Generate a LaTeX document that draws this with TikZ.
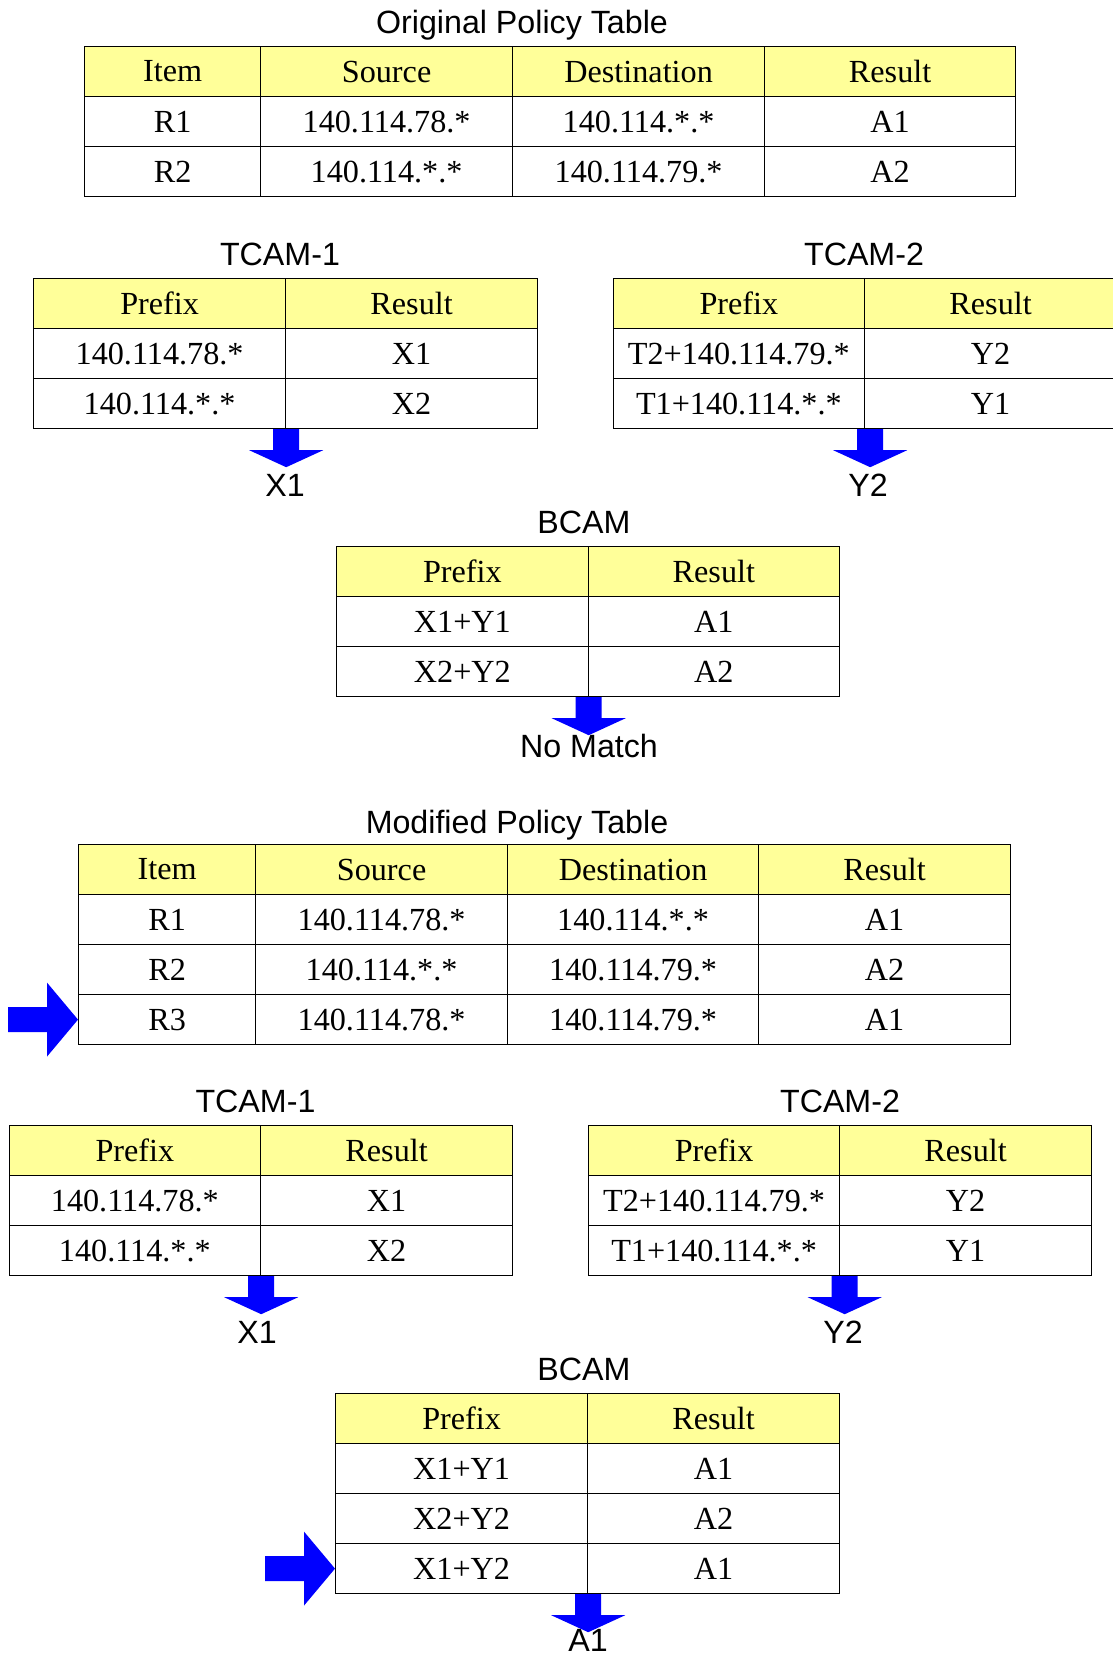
\documentclass[tikz,border=0pt]{standalone}
\usepackage{fontspec}
\setmainfont{Liberation Serif}
\newfontfamily\labelfont{Liberation Sans}
\usetikzlibrary{calc}

\definecolor{headyellow}{RGB}{255,255,153}
\definecolor{arrowblue}{RGB}{0,0,255}

\tikzset{
  cell/.style={draw=black, line width=1.2pt, fill=white, minimum height=50pt,
               inner sep=0pt, anchor=north west, font=\fontsize{32.2}{37}\selectfont},
  headcell/.style={cell, fill=headyellow},
  caption/.style={font=\labelfont\fontsize{32.2}{37}\selectfont, inner sep=0pt, anchor=base},
  blockarrow/.style={fill=arrowblue},
}

% one table cell: name, left x, right x, top y, style, text
\newcommand\tcell[6]{\node[#5, minimum width=#3pt-#2pt] (#1) at (#2,#4) {#6};}

% downward block arrow hanging from a point on a table's lower edge
\newcommand\blockdown[1]{%
  \fill[blockarrow] #1 ++(-13,0) -- ++(26,0) -- ++(0,21) -- ++(24,0)
    -- ++(-37,17) -- ++(-37,-17) -- ++(24,0) -- cycle;}
% rightward block arrow whose tip touches a row's left edge
\newcommand\blockright[1]{%
  \fill[blockarrow] #1 -- ++(-31,-37) -- ++(0,24.5) -- ++(-39,0) -- ++(0,25)
    -- ++(39,0) -- ++(0,24.5) -- cycle;}

\begin{document}
\begin{tikzpicture}[x=1pt, y=-1pt]
\useasboundingbox (0,0) rectangle (1113,1663);

% ---------------- Original policy table ----------------
\node[caption] (o-title) at (522,33.5) {Original Policy Table};
\tcell{o-h1}{84}{260}{46}{headcell}{Item}
\tcell{o-h2}{260}{512}{46}{headcell}{Source}
\tcell{o-h3}{512}{764}{46}{headcell}{Destination}
\tcell{o-h4}{764}{1015}{46}{headcell}{Result}
\tcell{o-a1}{84}{260}{96}{cell}{R1}
\tcell{o-a2}{260}{512}{96}{cell}{140.114.78.*}
\tcell{o-a3}{512}{764}{96}{cell}{140.114.*.*}
\tcell{o-a4}{764}{1015}{96}{cell}{A1}
\tcell{o-b1}{84}{260}{146}{cell}{R2}
\tcell{o-b2}{260}{512}{146}{cell}{140.114.*.*}
\tcell{o-b3}{512}{764}{146}{cell}{140.114.79.*}
\tcell{o-b4}{764}{1015}{146}{cell}{A2}

% ---------------- TCAM-1 ----------------
\node[caption] (t1-title) at (280,265.5) {TCAM-1};
\tcell{t1-h1}{33}{285}{278}{headcell}{Prefix}
\tcell{t1-h2}{285}{537}{278}{headcell}{Result}
\tcell{t1-a1}{33}{285}{328}{cell}{140.114.78.*}
\tcell{t1-a2}{285}{537}{328}{cell}{X1}
\tcell{t1-b1}{33}{285}{378}{cell}{140.114.*.*}
\tcell{t1-b2}{285}{537}{378}{cell}{X2}
\blockdown{(t1-b1.south east)}
\node[caption] (t1-out) at (285,496) {X1};

% ---------------- TCAM-2 ----------------
\node[caption] (t2-title) at (864,265.5) {TCAM-2};
\tcell{t2-h1}{612.5}{864}{278}{headcell}{Prefix}
\tcell{t2-h2}{864}{1116}{278}{headcell}{Result}
\tcell{t2-a1}{612.5}{864}{328}{cell}{T2+140.114.79.*}
\tcell{t2-a2}{864}{1116}{328}{cell}{Y2}
\tcell{t2-b1}{612.5}{864}{378}{cell}{T1+140.114.*.*}
\tcell{t2-b2}{864}{1116}{378}{cell}{Y1}
\blockdown{($(t2-b1.south east)+(5,0)$)}
\node[caption] (t2-out) at (868,496) {Y2};

% ---------------- BCAM ----------------
\node[caption] (b-title) at (584,533.5) {BCAM};
\tcell{b-h1}{336}{587.5}{546}{headcell}{Prefix}
\tcell{b-h2}{587.5}{839}{546}{headcell}{Result}
\tcell{b-a1}{336}{587.5}{596}{cell}{X1+Y1}
\tcell{b-a2}{587.5}{839}{596}{cell}{A1}
\tcell{b-b1}{336}{587.5}{646}{cell}{X2+Y2}
\tcell{b-b2}{587.5}{839}{646}{cell}{A2}
\blockdown{(b-b1.south east)}
\node[caption] (b-out) at (589,757) {No Match};

% ---------------- Modified policy table ----------------
\node[caption] (m-title) at (517,833.5) {Modified Policy Table};
\tcell{m-h1}{78}{255}{844}{headcell}{Item}
\tcell{m-h2}{255}{507}{844}{headcell}{Source}
\tcell{m-h3}{507}{758}{844}{headcell}{Destination}
\tcell{m-h4}{758}{1010}{844}{headcell}{Result}
\tcell{m-a1}{78}{255}{894}{cell}{R1}
\tcell{m-a2}{255}{507}{894}{cell}{140.114.78.*}
\tcell{m-a3}{507}{758}{894}{cell}{140.114.*.*}
\tcell{m-a4}{758}{1010}{894}{cell}{A1}
\tcell{m-b1}{78}{255}{944}{cell}{R2}
\tcell{m-b2}{255}{507}{944}{cell}{140.114.*.*}
\tcell{m-b3}{507}{758}{944}{cell}{140.114.79.*}
\tcell{m-b4}{758}{1010}{944}{cell}{A2}
\tcell{m-c1}{78}{255}{994}{cell}{R3}
\tcell{m-c2}{255}{507}{994}{cell}{140.114.78.*}
\tcell{m-c3}{507}{758}{994}{cell}{140.114.79.*}
\tcell{m-c4}{758}{1010}{994}{cell}{A1}
\blockright{(m-c1.west)}

% ---------------- TCAM-1 (modified) ----------------
\node[caption] (u1-title) at (255.5,1112.5) {TCAM-1};
\tcell{u1-h1}{8.5}{260}{1125}{headcell}{Prefix}
\tcell{u1-h2}{260}{512}{1125}{headcell}{Result}
\tcell{u1-a1}{8.5}{260}{1175}{cell}{140.114.78.*}
\tcell{u1-a2}{260}{512}{1175}{cell}{X1}
\tcell{u1-b1}{8.5}{260}{1225}{cell}{140.114.*.*}
\tcell{u1-b2}{260}{512}{1225}{cell}{X2}
\blockdown{(u1-b1.south east)}
\node[caption] (u1-out) at (257,1343) {X1};

% ---------------- TCAM-2 (modified) ----------------
\node[caption] (u2-title) at (840,1112.5) {TCAM-2};
\tcell{u2-h1}{588}{839}{1125}{headcell}{Prefix}
\tcell{u2-h2}{839}{1091}{1125}{headcell}{Result}
\tcell{u2-a1}{588}{839}{1175}{cell}{T2+140.114.79.*}
\tcell{u2-a2}{839}{1091}{1175}{cell}{Y2}
\tcell{u2-b1}{588}{839}{1225}{cell}{T1+140.114.*.*}
\tcell{u2-b2}{839}{1091}{1225}{cell}{Y1}
\blockdown{($(u2-b1.south east)+(4.5,0)$)}
\node[caption] (u2-out) at (843,1343) {Y2};

% ---------------- BCAM (modified) ----------------
\node[caption] (v-title) at (584,1380.5) {BCAM};
\tcell{v-h1}{335}{587}{1393}{headcell}{Prefix}
\tcell{v-h2}{587}{839}{1393}{headcell}{Result}
\tcell{v-a1}{335}{587}{1443}{cell}{X1+Y1}
\tcell{v-a2}{587}{839}{1443}{cell}{A1}
\tcell{v-b1}{335}{587}{1493}{cell}{X2+Y2}
\tcell{v-b2}{587}{839}{1493}{cell}{A2}
\tcell{v-c1}{335}{587}{1543}{cell}{X1+Y2}
\tcell{v-c2}{587}{839}{1543}{cell}{A1}
\blockright{(v-c1.west)}
\blockdown{(v-c1.south east)}
\node[caption] (v-out) at (588,1651) {A1};

\end{tikzpicture}
\end{document}
